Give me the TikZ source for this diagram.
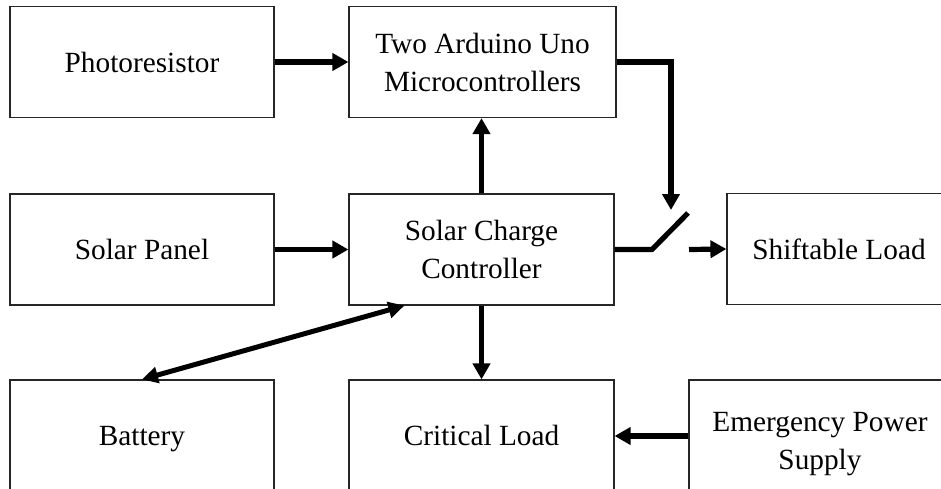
\documentclass[tikz,border=0pt]{standalone}
\usepackage{fontspec}
\setmainfont{Liberation Serif}
\usetikzlibrary{arrows.meta,calc}
\newcommand{\lnstrut}{\rule[-11.4pt]{0pt}{38pt}}
\tikzset{
  blk/.style={draw=black!85, line width=1.2pt, inner sep=0pt, minimum height=111pt, align=center,
     font=\fontsize{29.3}{38}\selectfont},
  conn/.style={line width=5.2pt, -{Triangle[length=16pt,width=17pt]}},
  biconn/.style={line width=5pt, {Triangle[length=16pt,width=16pt]}-{Triangle[length=16pt,width=16pt]}},
  wire/.style={line width=5.2pt}
}
\begin{document}
\begin{tikzpicture}[x=1pt,y=-1pt]
\useasboundingbox (0,0) rectangle (941,488);
\clip (0,0) rectangle (941,488);
\node[blk, minimum width=264pt] (pr) at (142,62) {Photoresistor};
\node[blk, minimum width=267pt] (ard) at (482.5,62) {Two Arduino Uno\\Microcontrollers};
\node[blk, minimum width=264pt] (sp) at (142,249.5) {Solar Panel};
\node[blk, minimum width=265pt] (scc) at (481.5,249.5) {Solar Charge\\Controller};
\node[blk, minimum width=224pt] (sl) at (839,249) {Shiftable Load};
\node[blk, minimum width=264pt, text depth=0pt] (bat) at (142,435.5) {Battery};
\node[blk, minimum width=265pt] (crit) at (481.5,435.5) {Critical Load};
\node[blk, minimum width=262pt, minimum height=124.8pt] (emg) at (820,442.4) {\lnstrut Emergency Power\\\lnstrut Supply};
\coordinate (ctl) at (671,210);
\coordinate (swa) at (652,249.5);
\coordinate (swb) at (688,213);
\coordinate (swc) at (689,249.5);
\draw[conn] (pr.east) -- (ard.west);
\draw[conn] (sp.east) -- (scc.west);
\draw[conn] (scc.north) -- (scc.north |- ard.south);
\draw[conn] (scc.south) -- (crit.north);
\draw[conn] ([yshift=6.4pt]emg.west) -- ([yshift=6.4pt]emg.west -| crit.east);
\draw[conn] (ard.east) -| (ctl);
\draw[wire] (scc.east) -- (swa) -- (swb);
\draw[conn] (swc) -- (sl.west);
\draw[biconn] ([xshift=56pt]scc.south west) -- (bat.north);
\end{tikzpicture}
\end{document}
